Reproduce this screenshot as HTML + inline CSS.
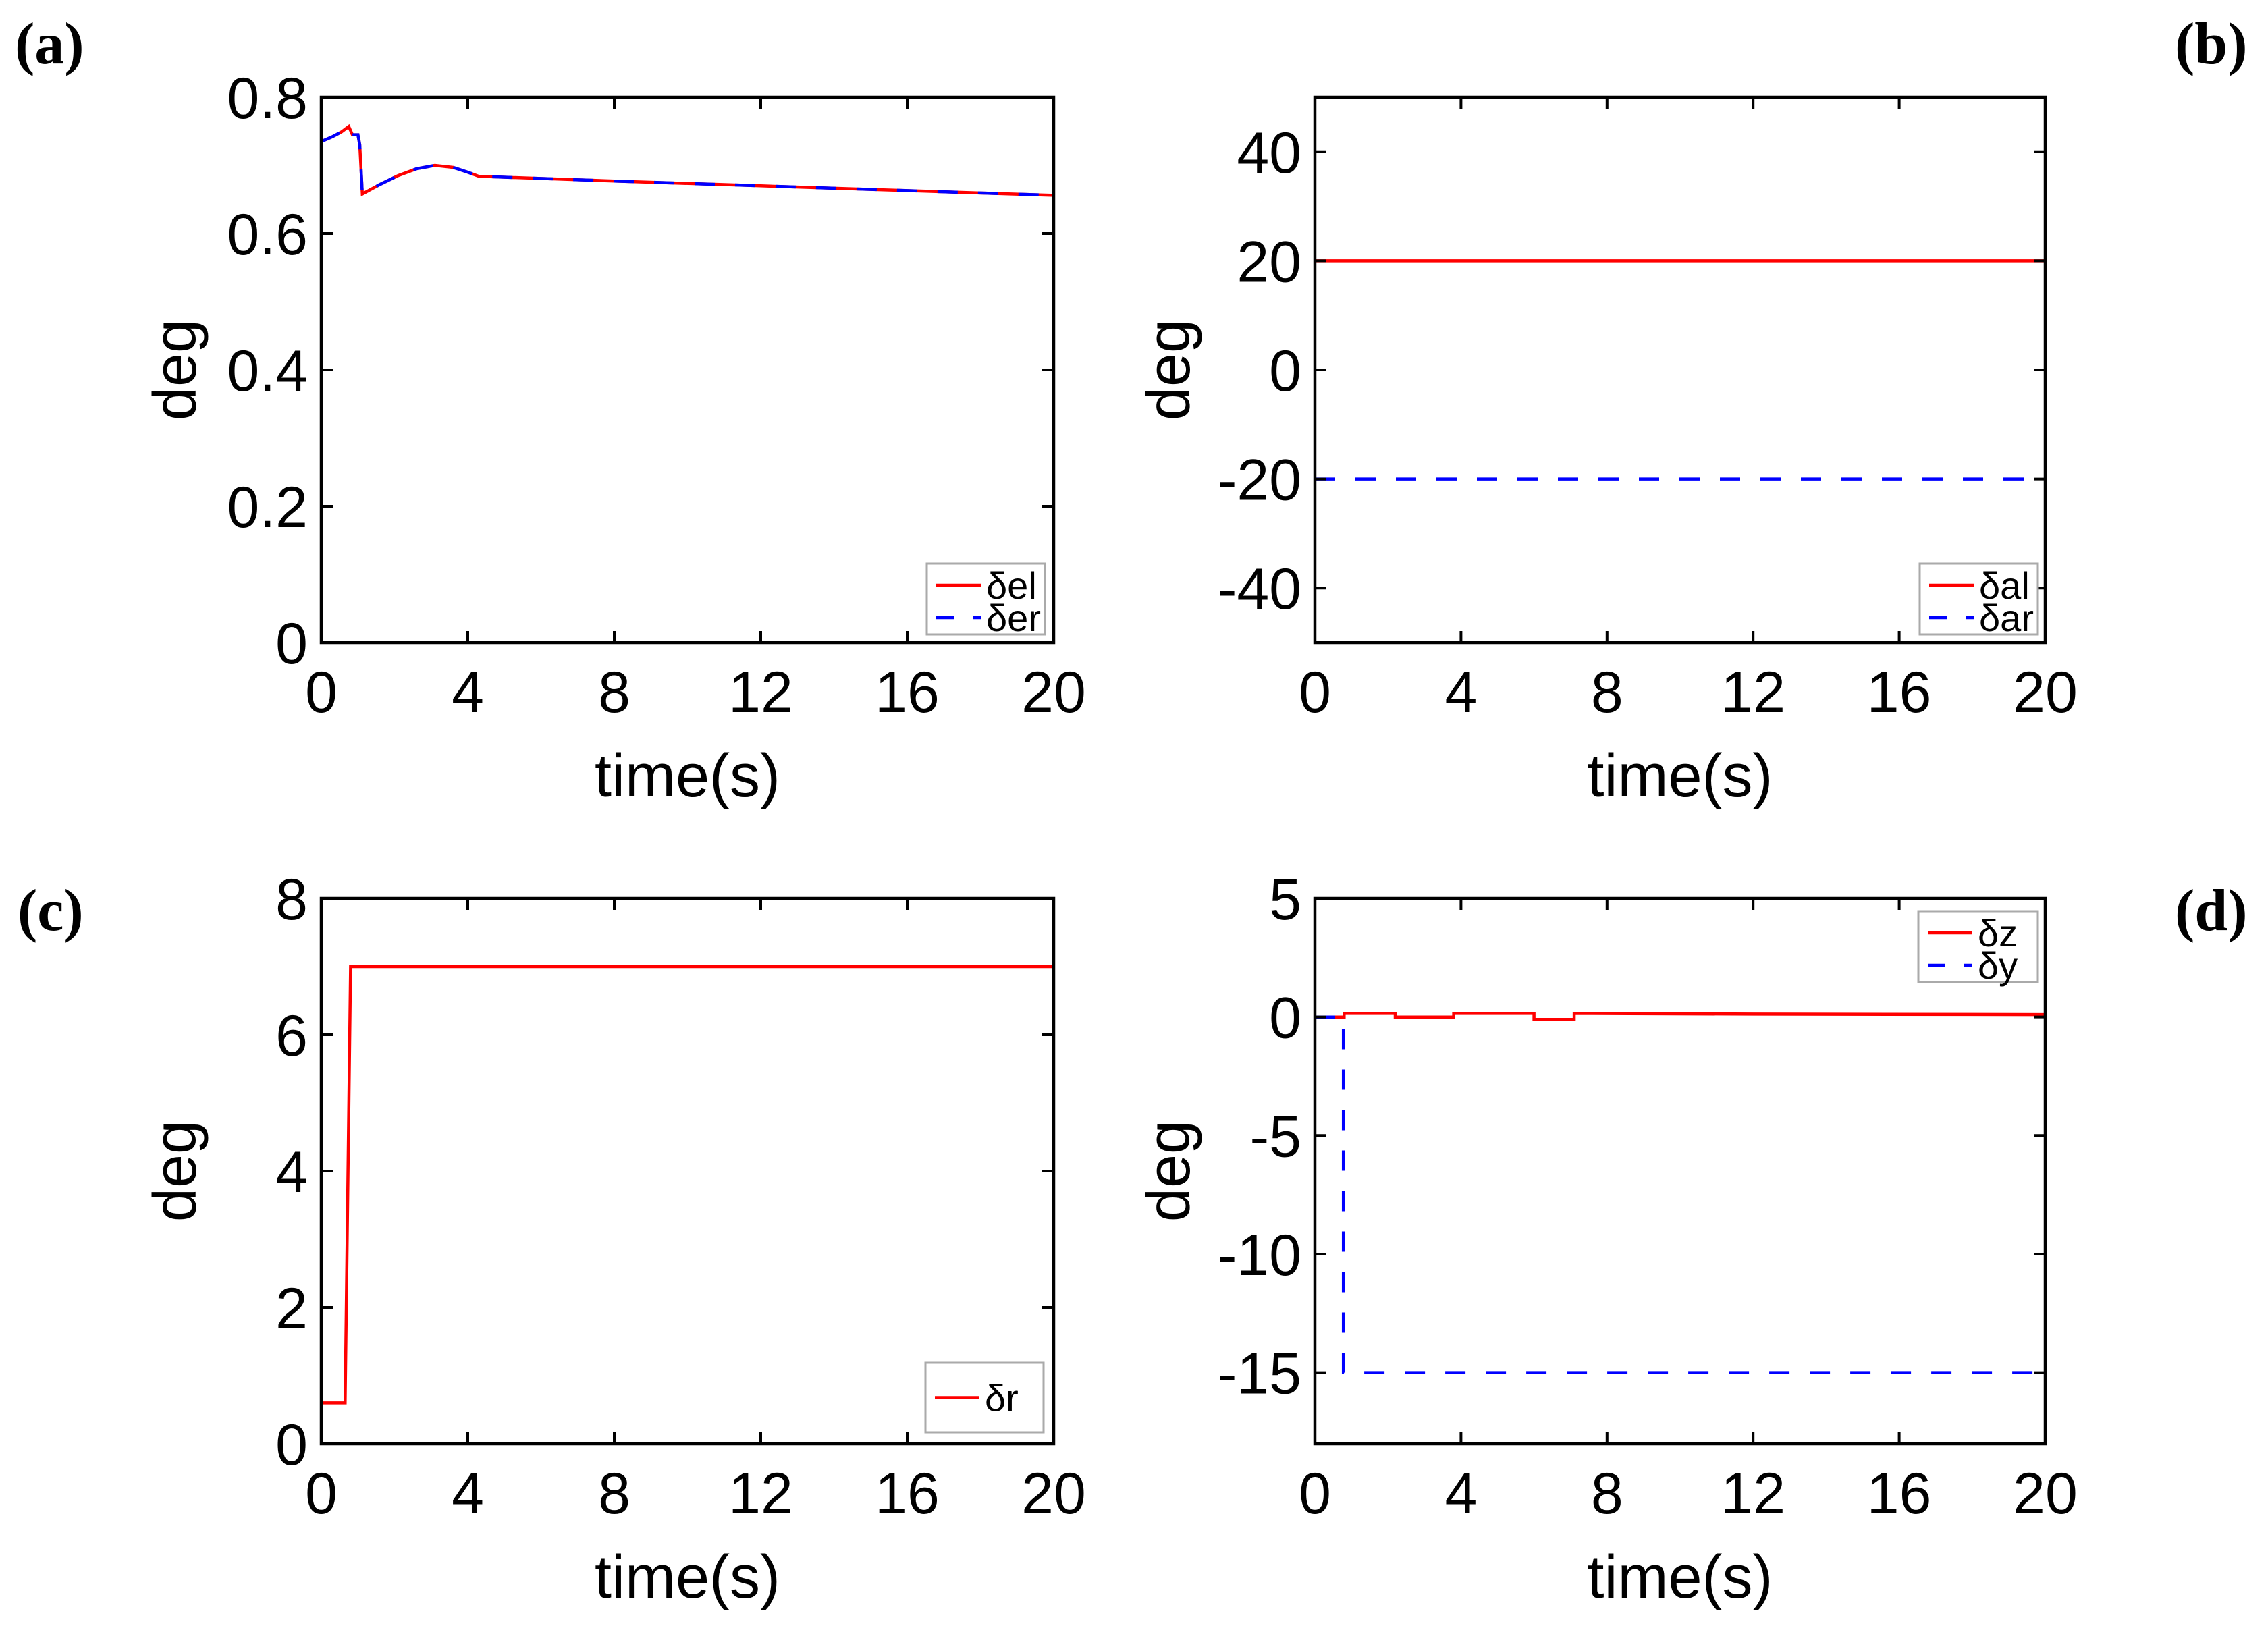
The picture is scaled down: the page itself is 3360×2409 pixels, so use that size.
<!DOCTYPE html>
<html><head><meta charset="utf-8"><style>
html,body{margin:0;padding:0;background:#fff;}
svg{display:block;font-family:"Liberation Sans",Arial,sans-serif;}
</style></head><body>
<svg id="fig" width="3360" height="2409" viewBox="0 0 3360 2409" xmlns="http://www.w3.org/2000/svg"></svg>
<script>
// ---- Panel data (arrays) ----
const xTicks = [0,4,8,12,16,20];
// (a) elevator
const aTime = [0,0.3,0.55,0.75,0.85,1.0,1.05,1.12,1.6,2.1,2.6,3.1,3.6,4.0,4.3,8,12,16,20];
const aEl   = [0.735,0.742,0.749,0.757,0.745,0.745,0.73,0.658,0.672,0.685,0.695,0.700,0.697,0.690,0.684,0.677,0.670,0.663,0.656];
const aEr   = [0.735,0.742,0.749,0.757,0.745,0.745,0.73,0.658,0.672,0.685,0.695,0.700,0.697,0.690,0.684,0.677,0.670,0.663,0.656];
const aYTicks = [0,0.2,0.4,0.6,0.8];
const aYLabels = ["0","0.2","0.4","0.6","0.8"];
// (b) aileron
const bTime = [0,20];
const bAl = [20,20];
const bAr = [-20,-20];
const bYTicks = [-40,-20,0,20,40];
const bYLabels = ["-40","-20","0","20","40"];
// (c) rudder
const cTime = [0,0.65,0.8,20];
const cR = [0.6,0.6,7.0,7.0];
const cYTicks = [0,2,4,6,8];
const cYLabels = ["0","2","4","6","8"];
// (d)
const dzTime = [0,0.8,0.8,2.2,2.2,3.8,3.8,6.0,6.0,7.1,7.1,12,20];
const dZ     = [0,0,0.15,0.15,0,0,0.15,0.15,-0.1,-0.1,0.15,0.12,0.1];
const dyTime = [0,0.78,0.78,20];
const dY     = [0,0,-15,-15];
const dYTicks = [-15,-10,-5,0,5];
const dYLabels = ["-15","-10","-5","0","5"];

const NS="http://www.w3.org/2000/svg";
const svg=document.getElementById('fig');
function el(tag,attrs,parent){const e=document.createElementNS(NS,tag);for(const k in attrs)e.setAttribute(k,attrs[k]);(parent||svg).appendChild(e);return e;}

function panel(opt){
  const g=el('g',{});
  
  
  const L=opt.L,R=opt.R,T=opt.T,B=opt.B;
  const xs=v=>L+(v-0)/(20-0)*(R-L);
  const ys=v=>B-(v-opt.ymin)/(opt.ymax-opt.ymin)*(B-T);
  opt.series.forEach(s=>{
    const pts=s.t.map((t,i)=>xs(t).toFixed(1)+','+ys(s.v[i]).toFixed(1)).join(' ');
    const p=el('polyline',{points:pts,fill:'none',stroke:s.color,'stroke-width':4.5,'stroke-dasharray':s.dash||'none'},g);
    
    
  });
  const box=el('rect',{x:L,y:T,width:R-L,height:B-T,fill:'none',stroke:'#000','stroke-width':4.5},g);
  
  
  xTicks.forEach(v=>{
    const x=xs(v);
    el('line',{x1:x,y1:B,x2:x,y2:B-17,stroke:'#000','stroke-width':4},g);
    el('line',{x1:x,y1:T,x2:x,y2:T+17,stroke:'#000','stroke-width':4},g);
    const t=el('text',{x:x,y:B+103,'font-size':86,'text-anchor':'middle',fill:'#000'},g);
    t.textContent=String(v);
    
    
  });
  opt.yTicks.forEach((v,i)=>{
    const y=ys(v);
    el('line',{x1:L,y1:y,x2:L+17,y2:y,stroke:'#000','stroke-width':4},g);
    el('line',{x1:R,y1:y,x2:R-17,y2:y,stroke:'#000','stroke-width':4},g);
    const t=el('text',{x:L-20,y:y+31,'font-size':86,'text-anchor':'end',fill:'#000'},g);
    t.textContent=opt.yLabels[i];
    
    
  });
  const xl=el('text',{x:(L+R)/2,y:B+228,'font-size':90,'text-anchor':'middle',fill:'#000'},g);
  xl.textContent='time(s)';
  
  
  const yl=el('text',{x:0,y:0,'font-size':90,'text-anchor':'middle',fill:'#000',transform:`translate(${L-186},${(T+B)/2}) rotate(-90)`},g);
  yl.textContent='deg';
  
  
  const lg=el('g',{},g);
  
  
  const lx=opt.leg[0],ly=opt.leg[1],lw=opt.leg[2],lh=opt.leg[3];
  el('rect',{x:lx,y:ly,width:lw,height:lh,fill:'#fff',stroke:'#aaa','stroke-width':3},lg);
  const n=opt.series.length;
  opt.series.forEach((s,i)=>{
    const cy = n===1 ? ly+lh/2 : ly+32+i*48;
    el('line',{x1:lx+14,y1:cy,x2:lx+80,y2:cy,stroke:s.color,'stroke-width':4.5,'stroke-dasharray':s.dash?'26,28':'none'},lg);
    const t=el('text',{x:lx+88,y:cy+20,'font-size':56,fill:'#000'},lg);
    t.textContent=s.label;
    
    
  });
  const pl=el('text',{x:opt.lab[0],y:opt.lab[1],'font-size':88,'font-family':'"Liberation Serif",serif','font-weight':'bold',fill:'#000'},g);
  pl.textContent=opt.letter;
  
  
}

panel({name:'panel-a',L:476,R:1561,T:144,B:952,ymin:0,ymax:0.8,yTicks:aYTicks,yLabels:aYLabels,
  series:[{name:'line-del',t:aTime,v:aEl,color:'#ff0000',label:'δel'},{name:'line-der',t:aTime,v:aEr,color:'#0000ff',dash:'30,30',label:'δer'}],
  leg:[1373,835,175,105],lab:[22,94],letter:'(a)'});
panel({name:'panel-b',L:1948,R:3030,T:144,B:952,ymin:-50,ymax:50,yTicks:bYTicks,yLabels:bYLabels,
  series:[{name:'line-dal',t:bTime,v:bAl,color:'#ff0000',label:'δal'},{name:'line-dar',t:bTime,v:bAr,color:'#0000ff',dash:'30,30',label:'δar'}],
  leg:[2844,835,175,105],lab:[3222,94],letter:'(b)'});
panel({name:'panel-c',L:476,R:1561,T:1331,B:2139,ymin:0,ymax:8,yTicks:cYTicks,yLabels:cYLabels,
  series:[{name:'line-dr',t:cTime,v:cR,color:'#ff0000',label:'δr'}],
  leg:[1371,2019,175,103],lab:[26,1378],letter:'(c)'});
panel({name:'panel-d',L:1948,R:3030,T:1331,B:2139,ymin:-18,ymax:5,yTicks:dYTicks,yLabels:dYLabels,
  series:[{name:'line-dz',t:dzTime,v:dZ,color:'#ff0000',label:'δz'},{name:'line-dy',t:dyTime,v:dY,color:'#0000ff',dash:'30,30',label:'δy'}],
  leg:[2842,1350,177,105],lab:[3222,1378],letter:'(d)'});
</script>
</body></html>
